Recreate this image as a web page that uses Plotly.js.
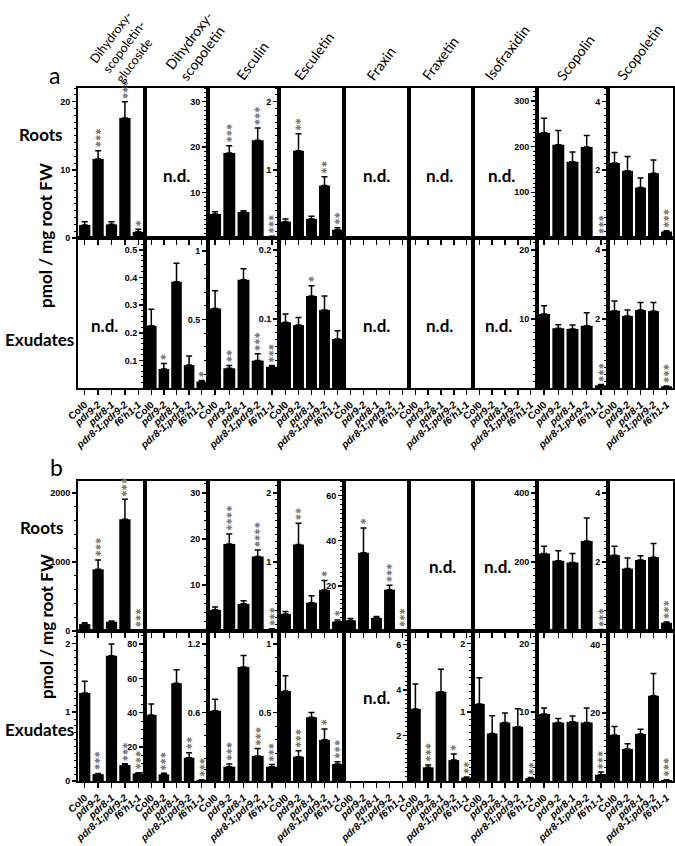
<!DOCTYPE html>
<html>
<head>
<meta charset="utf-8">
<script src="https://cdn.plot.ly/plotly-3.0.1.min.js"></script>
<style>
  body { margin: 0; background: #fff; }
  #chart { width: 675px; height: 846px; }
</style>
</head>
<body>
<div id="chart"></div>
<script>
// genotypes and compounds
var genotypes = ['Col0', 'pdr9-2', 'pdr8-1', 'pdr8-1;pdr9-2', "f6'h1-1"];
var compounds = ['Dihydroxy-<br>scopoletin-<br>glucoside', 'Dihydroxy-<br>scopoletin', 'Esculin', 'Esculetin',
                 'Fraxin', 'Fraxetin', 'Isofraxidin', 'Scopolin', 'Scopoletin'];

// ---- a, roots ----
var rootsA_mean = [[1.9, 11.6, 2.0, 17.6, 0.9], null, [5.3, 18.7, 5.7, 21.5, 0.3], [0.24, 1.28, 0.28, 0.77, 0.12],
                   null, null, null, [230, 204, 167, 199, 2], [2.2, 1.97, 1.48, 1.9, 0.19]];
var rootsA_sem = [[0.5, 1.2, 0.4, 2.4, 0.4], null, [0.5, 1.6, 0.3, 2.7, 0.1], [0.04, 0.25, 0.04, 0.13, 0.03],
                  null, null, null, [32, 31, 21, 25, 1], [0.31, 0.42, 0.28, 0.39, 0.02]];
var rootsA_sig = [['', '***', '', '***', '*'], null, ['', '***', '', '***', '***'], ['', '**', '', '**', '**'],
                  null, null, null, ['', '', '', '', '***'], ['', '', '', '', '***']];
var rootsA_max = [22, 1, 33, 2.2, 1, 1, 1, 328, 4.4];
var rootsA_ticks = [[0, 10, 20], [], [10, 20, 30], [1, 2], [], [], [], [100, 200, 300], [2, 4]];
var rootsA_minor = [1, 0, 1, 0.1, 0, 0, 0, 10, 0.2];

// ---- a, exudates ----
var exudA_mean = [null, [0.225, 0.069, 0.385, 0.083, 0.023], [0.58, 0.144, 0.79, 0.2, 0.155], [0.095, 0.091, 0.133, 0.113, 0.071],
                  null, null, null, [10.7, 8.65, 8.55, 9.0, 0.4], [2.24, 2.09, 2.26, 2.23, 0.05]];
var exudA_sem = [null, [0.06, 0.02, 0.067, 0.033, 0.004], [0.13, 0.02, 0.08, 0.05, 0.01], [0.012, 0.011, 0.015, 0.02, 0.012],
                 null, null, null, [1.2, 0.5, 0.55, 1.9, 0.1], [0.28, 0.17, 0.22, 0.25, 0.01]];
var exudA_sig = [null, ['', '*', '', '', '*'], ['', '**', '', '***', '***'], ['', '', '*', '', ''],
                 null, null, null, ['', '', '', '', '***'], ['', '', '', '', '***']];
var exudA_max = [1, 0.543, 1.095, 0.217, 1, 1, 1, 21.7, 4.35];
var exudA_ticks = [[], [0.1, 0.2, 0.3, 0.4, 0.5], [0.5, 1], [0.1, 0.2], [], [], [], [10, 20], [2, 4]];
var exudA_minor = [0, 0.02, 0.1, 0.01, 0, 0, 0, 1, 0.2];

// ---- b, roots ----
var rootsB_mean = [[100, 894, 135, 1619, 5], null, [4.6, 18.9, 5.9, 16.2, 0.4], [0.246, 1.25, 0.41, 0.594, 0.135],
                   [4.7, 34.6, 5.8, 18.3, 0.3], null, null, [225, 204, 199, 261, 3], [2.2, 1.81, 2.06, 2.14, 0.24]];
var rootsB_sem = [[20, 135, 10, 290, 2], null, [0.6, 2.2, 0.7, 1.4, 0.1], [0.035, 0.31, 0.1, 0.135, 0.025],
                  [0.8, 11, 0.6, 1.9, 0.1], null, null, [21, 29, 26, 67, 1], [0.26, 0.31, 0.12, 0.4, 0.02]];
var rootsB_sig = [['', '***', '', '***', '***'], null, ['', '****', '', '****', '***'], ['', '**', '', '*', '*'],
                  ['', '*', '', '***', '***'], null, null, ['', '', '', '', '***'], ['', '', '', '', '***']];
var rootsB_max = [2174, 1, 32.6, 2.17, 66.4, 1, 1, 435, 4.35];
var rootsB_ticks = [[0, 1000, 2000], [], [10, 20, 30], [1, 2], [20, 40, 60], [], [], [200, 400], [2, 4]];
var rootsB_minor = [200, 0, 2, 0.1, 2, 0, 0, 20, 0.2];

// ---- b, exudates ----
var exudB_mean = [[1.28, 0.1, 1.82, 0.23, 0.11], [38.6, 3.9, 57.1, 13.6, 0.6], [0.617, 0.125, 1.0, 0.22, 0.125],
                  [0.657, 0.177, 0.465, 0.3, 0.124], null, [3.17, 0.6, 3.93, 0.92, 0.15], [1.12, 0.69, 0.85, 0.79, 0.04],
                  [9.75, 8.5, 8.6, 8.5, 0.9], [13.5, 9.4, 13.8, 25, 0.3]];
var exudB_sem = [[0.17, 0.01, 0.17, 0.02, 0.01], [6.4, 0.6, 7.9, 2.9, 0.2], [0.1, 0.025, 0.1, 0.065, 0.02],
                 [0.11, 0.044, 0.034, 0.08, 0.017], null, [1.1, 0.1, 0.99, 0.27, 0.03], [0.38, 0.26, 0.14, 0.26, 0.01],
                 [0.85, 0.6, 0.85, 2.1, 0.4], [2.5, 1.5, 1.4, 6.5, 0.1]];
var exudB_sig = [['', '***', '', '***', '***'], ['', '***', '', '**', '***'], ['', '***', '', '***', '***'],
                 ['', '***', '', '*', '***'], null, ['', '***', '', '*', '**'], ['', '', '', '', '**'],
                 ['', '', '', '', '***'], ['', '', '', '', '***']];
var exudB_max = [2.18, 87.7, 1.316, 1.094, 1, 6.6, 2.18, 21.8, 44];
var exudB_ticks = [[0, 1, 2], [20, 40, 60, 80], [0.6, 1.2], [0.5, 1], [], [2, 4, 6], [1, 2], [10, 20], [20, 40]];
var exudB_minor = [0.1, 5, 0.1, 0.1, 0, 0.2, 0.1, 1, 2];

// where the "n.d." notes go (fraction of panel width, 0 = none)
var rootsA_nd = [0, 0.5, 0, 0, 0.5, 0.48, 0.45, 0, 0];
var exudA_nd = [0.4, 0, 0, 0, 0.5, 0.48, 0.4, 0, 0];
var rootsB_nd = [0, 0, 0, 0, 0, 0.53, 0.38, 0, 0];
var exudB_nd = [0, 0, 0, 0, 0.5, 0, 0, 0, 0];

// page geometry (pixels)
var W = 675, H = 846, rowH = 150;
var colEdges = [78, 145, 208, 279, 344, 409, 473, 537, 608, 673];
var headerX = [84, 159, 230, 288, 360, 415, 478, 550, 610];
var headerSize = [12.5, 14, 14, 14, 14, 14, 14, 14, 14];

var rows = [
  {mean: rootsA_mean, sem: rootsA_sem, sig: rootsA_sig, max: rootsA_max, ticks: rootsA_ticks, minor: rootsA_minor, nd: rootsA_nd, top: 88, labels: false, ndY: 0.42},
  {mean: exudA_mean, sem: exudA_sem, sig: exudA_sig, max: exudA_max, ticks: exudA_ticks, minor: exudA_minor, nd: exudA_nd, top: 238, labels: true, ndY: 0.42},
  {mean: rootsB_mean, sem: rootsB_sem, sig: rootsB_sig, max: rootsB_max, ticks: rootsB_ticks, minor: rootsB_minor, nd: rootsB_nd, top: 481, labels: false, ndY: 0.43},
  {mean: exudB_mean, sem: exudB_sem, sig: exudB_sig, max: exudB_max, ticks: exudB_ticks, minor: exudB_minor, nd: exudB_nd, top: 631, labels: true, ndY: 0.56}
];

var genoText = genotypes.map(function (g, i) { return i === 0 ? g : '<i>' + g + '</i>'; });
var tickFont = {family: 'Liberation Sans, Arial, sans-serif', size: 9, weight: 'bold', color: 'black'};
var genoFont = {family: 'Liberation Sans, Arial, sans-serif', size: 10, weight: 'bold', color: 'black'};
var labelFont = {family: 'Lato, sans-serif', size: 17, weight: 'bold', color: 'black'};

var data = [];
var annotations = [];
var layout = {
  width: W, height: H,
  margin: {l: 0, r: 0, t: 0, b: 0},
  paper_bgcolor: 'white', plot_bgcolor: 'white',
  showlegend: false,
  bargap: 0.16
};

rows.forEach(function (row, r) {
  for (var c = 0; c < 9; c++) {
    var k = r * 9 + c + 1;
    var sfx = k === 1 ? '' : String(k);
    var has = row.mean[c] !== null;

    layout['xaxis' + sfx] = {
      domain: [colEdges[c] / W, colEdges[c + 1] / W],
      anchor: 'y' + sfx, range: [-0.5, 4.5], fixedrange: true,
      showline: true, mirror: true, linecolor: 'black', linewidth: 2,
      showgrid: false, zeroline: false,
      ticks: 'outside', ticklen: 5, tickwidth: 1.5, tickcolor: 'black',
      tickmode: 'array', tickvals: [0, 1, 2, 3, 4], ticktext: genoText,
      showticklabels: row.labels, tickangle: -42, tickfont: genoFont
    };

    var ya = {
      domain: [1 - (row.top + rowH) / H, 1 - row.top / H],
      anchor: 'x' + sfx, range: [0, row.max[c]], fixedrange: true,
      showline: true, mirror: true, linecolor: 'black', linewidth: 2,
      showgrid: false, zeroline: false,
      ticks: has ? 'outside' : '', ticklen: 4, tickwidth: 1.5, tickcolor: 'black',
      tickmode: 'array', tickvals: row.ticks[c], showticklabels: has, tickfont: tickFont
    };
    if (has) {
      ya.minor = {dtick: row.minor[c], ticks: 'outside', ticklen: 2.5, tickwidth: 1, tickcolor: 'black', showgrid: false};
    }
    layout['yaxis' + sfx] = ya;

    data.push({
      type: 'bar', x: [0, 1, 2, 3, 4],
      y: has ? row.mean[c] : [null, null, null, null, null],
      xaxis: 'x' + sfx, yaxis: 'y' + sfx,
      marker: {color: 'black'},
      error_y: has ? {type: 'data', symmetric: false, array: row.sem[c], arrayminus: [0, 0, 0, 0, 0],
                      color: 'black', thickness: 1.5, width: 3} : undefined,
      hoverinfo: 'skip'
    });

    if (has) {
      row.sig[c].forEach(function (s, i) {
        if (!s) return;
        annotations.push({
          xref: 'x' + sfx, yref: 'y' + sfx, x: i, y: row.mean[c][i] + row.sem[c][i],
          text: s.replace(/\*/g, '\u2731'), textangle: -90, showarrow: false,
          xanchor: 'center', yanchor: 'bottom', yshift: 1,
          font: {family: 'DejaVu Sans', size: 7.5, color: '#7a7a7a'}
        });
      });
    }

    if (row.nd[c]) {
      annotations.push({
        xref: 'x' + sfx + ' domain', yref: 'y' + sfx + ' domain', x: row.nd[c], y: row.ndY,
        text: 'n.d.', showarrow: false, xanchor: 'center', yanchor: 'middle', font: labelFont
      });
    }
  }
});

// column headers
compounds.forEach(function (name, c) {
  annotations.push({
    xref: 'paper', yref: 'paper', x: headerX[c] / W, y: 1 - 83 / H, yshift: c === 0 ? -6 : -3,
    text: name, textangle: -53, align: 'left', showarrow: false,
    xanchor: 'left', yanchor: 'bottom',
    font: {family: 'Lato, sans-serif', size: headerSize[c], color: 'black'}
  });
});

// panel letters and row labels
function paperNote(text, px, py, font, angle) {
  annotations.push({
    xref: 'paper', yref: 'paper', x: px / W, y: 1 - py / H, text: text,
    showarrow: false, xanchor: 'center', yanchor: 'middle', textangle: angle || 0, font: font
  });
}
var letterFont = {family: 'Lato, sans-serif', size: 23, color: 'black'};
paperNote('a', 54, 75, letterFont);
paperNote('b', 56, 467, letterFont);
paperNote('Roots', 41, 135, labelFont);
paperNote('Exudates', 39, 339, labelFont);
paperNote('Roots', 42, 527, labelFont);
paperNote('Exudates', 39, 729, labelFont);
paperNote('pmol / mg root FW', 46, 236, labelFont, -90);
paperNote('pmol / mg root FW', 46, 627, labelFont, -90);

layout.annotations = annotations;

Plotly.newPlot('chart', data, layout, {staticPlot: true, displayModeBar: false});
</script>
</body>
</html>
